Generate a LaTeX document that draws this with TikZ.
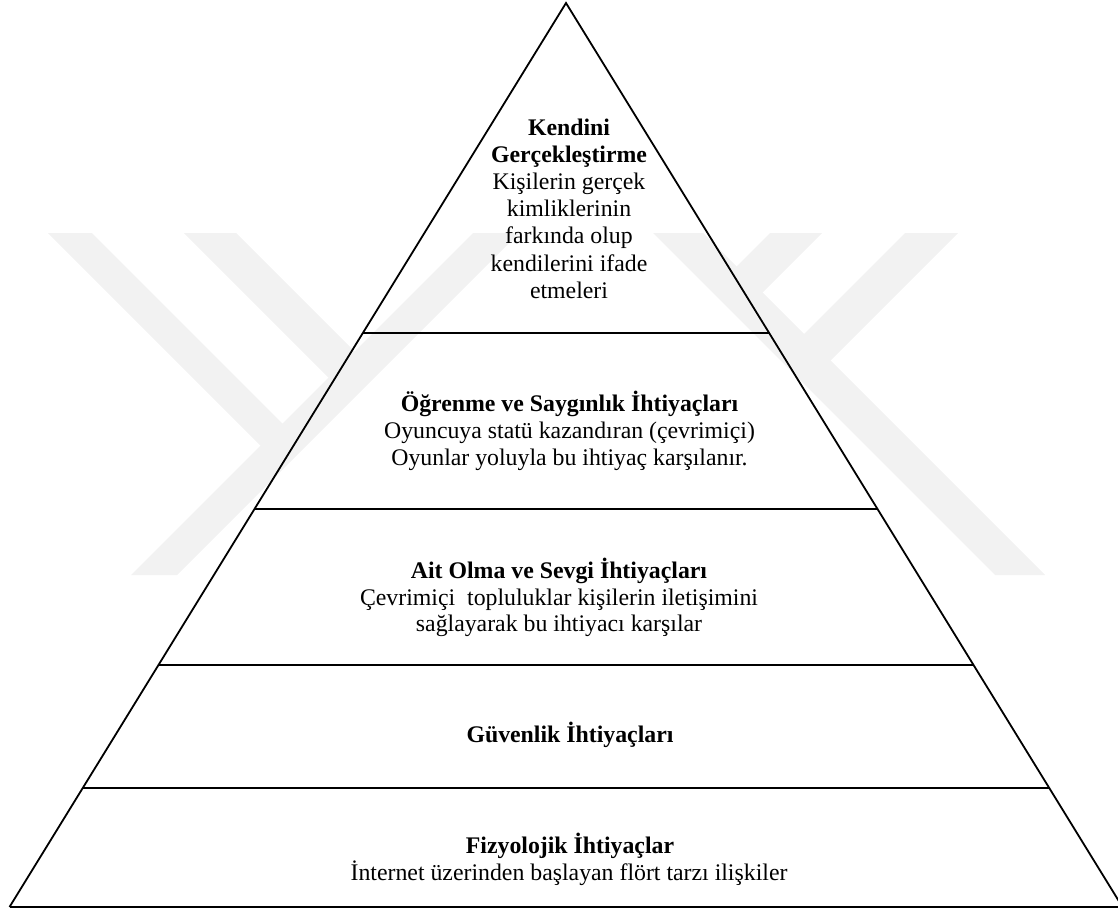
\documentclass[tikz,border=0pt]{standalone}
\usepackage{fontspec}
\setmainfont{Liberation Serif}
\begin{document}
\begin{tikzpicture}[x=1pt,y=-1pt,
  edge/.style={line width=1.8pt, line cap=butt, line join=miter},
  wm/.style={fill=black!5, draw=none},
  txt/.style={anchor=base, inner sep=0pt, font=\fontsize{23.8}{27}\selectfont},
  hd/.style={txt, font=\fontsize{23.8}{27}\selectfont\bfseries}]
\useasboundingbox (0,0) rectangle (1118,910);
% watermark
\fill[wm] (48,233)--(92,233)--(297,438)--(275,460)--cycle;
\fill[wm] (184,233)--(236,233)--(370,367)--(344,393)--cycle;
\fill[wm] (473,233)--(519,233)--(177,575)--(131,575)--cycle;
\fill[wm] (653,233)--(703,233)--(1045,575)--(995,575)--cycle;
\fill[wm] (905,233)--(958,233)--(818,373)--(791.5,346.5)--cycle;
\fill[wm] (770,233)--(822,233)--(750,305)--(724,279)--cycle;
% pyramid corners
\coordinate (apex) at (566,3);
\coordinate (bl) at (9.5,907);
\coordinate (br) at (1122.5,907);
\draw[edge] (bl) -- (apex) -- (br);
\draw[edge] (bl) -- (br);
\draw[edge] (363,333) -- (769,333);
\draw[edge] (255,509) -- (877,509);
\draw[edge] (159,665) -- (973,665);
\draw[edge] (83,788) -- (1049,788);
% level 5
\node[hd]  (k1) at (569,135) {Kendini};
\node[hd]  (k2) at (569,162.3) {Gerçekleştirme};
\node[txt] (k3) at (569,189.5) {Kişilerin gerçek};
\node[txt] (k4) at (569,216.7) {kimliklerinin};
\node[txt] (k5) at (569,243.9) {farkında olup};
\node[txt] (k6) at (569,271.1) {kendilerini ifade};
\node[txt] (k7) at (569,298.3) {etmeleri};
% level 4
\node[hd]  (o1) at (569.5,411.7) {Öğrenme ve Saygınlık İhtiyaçları};
\node[txt] (o2) at (569.5,438.5) {Oyuncuya statü kazandıran (çevrimiçi)};
\node[txt] (o3) at (569.5,465.3) {Oyunlar yoluyla bu ihtiyaç karşılanır.};
% level 3
\node[hd]  (a1) at (559,578.3) {Ait Olma ve Sevgi İhtiyaçları};
\node[txt] (a2) at (559,605) {Çevrimiçi\ \ topluluklar kişilerin iletişimini};
\node[txt] (a3) at (559,631.7) {sağlayarak bu ihtiyacı karşılar};
% level 2
\node[hd]  (g1) at (570,742.7) {Güvenlik İhtiyaçları};
% level 1
\node[hd]  (f1) at (570,853.3) {Fizyolojik İhtiyaçlar};
\node[txt] (f2) at (569,880) {İnternet üzerinden başlayan flört tarzı ilişkiler};
\end{tikzpicture}
\end{document}
